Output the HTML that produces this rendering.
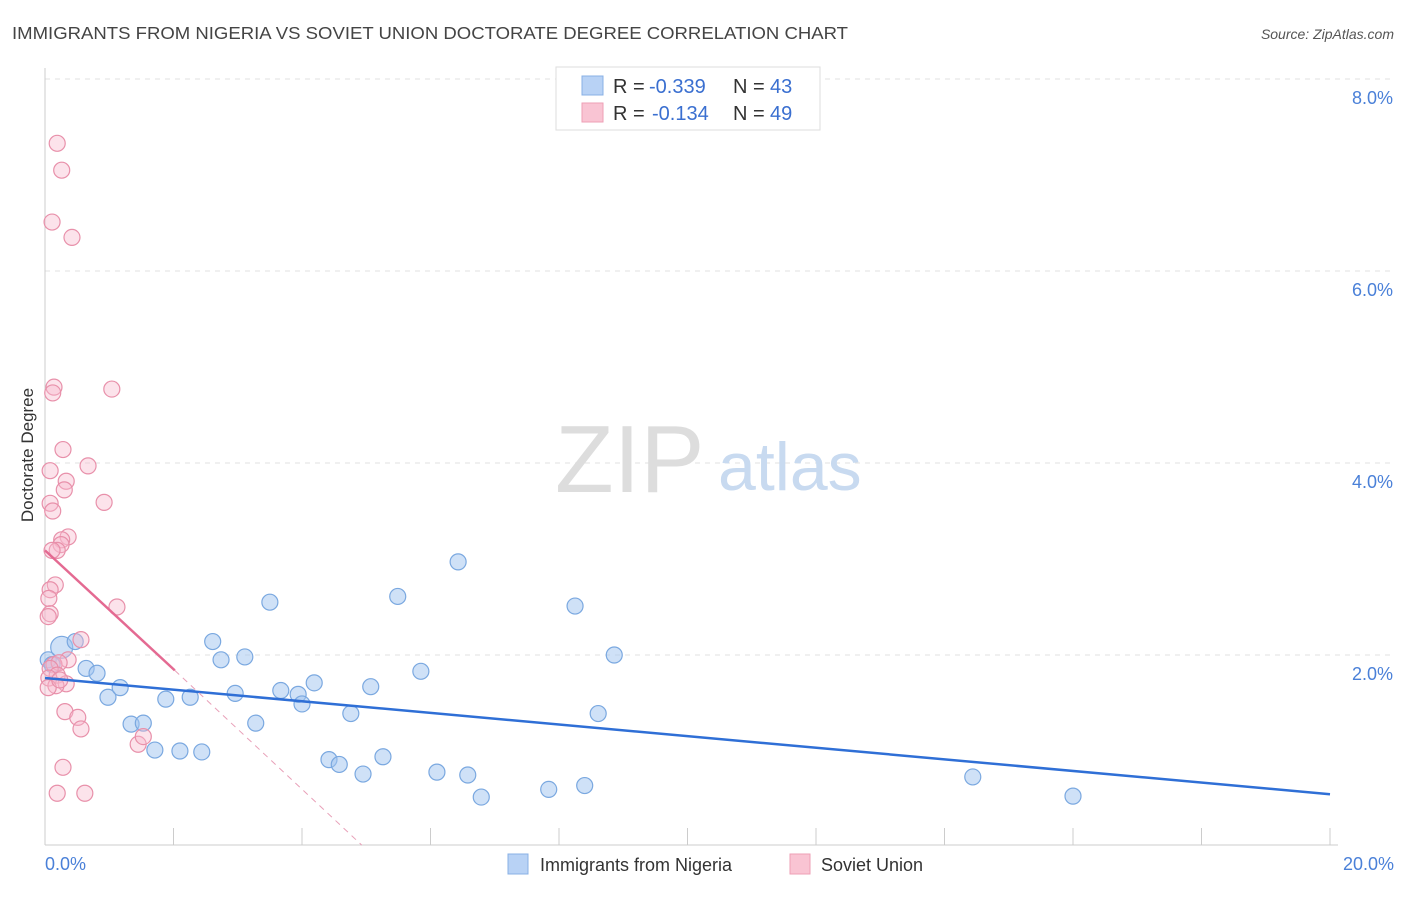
<!DOCTYPE html>
<html><head><meta charset="utf-8"><style>
body{margin:0;background:#fff;font-family:"Liberation Sans",sans-serif;}
svg text{font-family:"Liberation Sans",sans-serif;}
</style></head><body>
<svg id="c" width="1406" height="892">
<text x="12" y="39" font-size="17.5" fill="#444" textLength="836" lengthAdjust="spacingAndGlyphs">IMMIGRANTS FROM NIGERIA VS SOVIET UNION DOCTORATE DEGREE CORRELATION CHART</text>
<text x="1394" y="39" font-size="14" fill="#555" font-style="italic" text-anchor="end">Source: ZipAtlas.com</text>
<text x="33" y="455" font-size="17" fill="#333" text-anchor="middle" transform="rotate(-90 33 455)">Doctorate Degree</text>
<g id="grid"></g>
<text x="555" y="492" font-size="96" fill="#ddd" font-family="Liberation Serif">ZIP</text>
<text x="718" y="490" font-size="68" fill="#c8daf0">atlas</text>
<g id="marks"></g>
<g>
<rect x="556" y="67" width="264" height="63" fill="#fff" stroke="#ddd"/>
<rect x="582" y="76" width="21" height="19" fill="#b8d2f5" stroke="#88b0e5"/>
<rect x="582" y="103" width="21" height="19" fill="#f9c4d3" stroke="#ee9fb6"/>
<text x="613" y="93" font-size="20" fill="#333">R =</text>
<text x="649" y="93" font-size="20" fill="#3a6fd0">-0.339</text>
<text x="733" y="93" font-size="20" fill="#333">N =</text>
<text x="770" y="93" font-size="20" fill="#3a6fd0">43</text>
<text x="613" y="120" font-size="20" fill="#333">R =</text>
<text x="652" y="120" font-size="20" fill="#3a6fd0">-0.134</text>
<text x="733" y="120" font-size="20" fill="#333">N =</text>
<text x="770" y="120" font-size="20" fill="#3a6fd0">49</text>
</g>
<g>
<rect x="508" y="854" width="20" height="20" fill="#b8d2f5" stroke="#88b0e5"/>
<text x="540" y="871" font-size="18" fill="#333">Immigrants from Nigeria</text>
<rect x="790" y="854" width="20" height="20" fill="#f9c4d3" stroke="#ee9fb6"/>
<text x="821" y="871" font-size="18" fill="#333">Soviet Union</text>
</g>
</svg>
<script>
const yTicks=[2,4,6,8];
const xTickLabels=["0.0%","20.0%"];
const blueX=[0.05,0.11,0.26,0.47,0.64,0.81,0.98,1.17,1.34,1.53,1.71,1.88,2.10,2.26,2.44,2.61,2.74,2.96,3.11,3.28,3.50,3.67,3.94,4.00,4.19,4.42,4.58,4.76,4.95,5.07,5.26,5.49,5.85,6.10,6.43,6.58,6.79,7.84,8.25,8.40,8.61,8.86,14.44,16.00];
const blueY=[1.95,1.90,2.08,2.14,1.86,1.81,1.56,1.66,1.28,1.29,1.01,1.54,1.00,1.56,0.99,2.14,1.95,1.60,1.98,1.29,2.55,1.63,1.59,1.49,1.71,0.91,0.86,1.39,0.76,1.67,0.94,2.61,1.83,0.78,2.97,0.75,0.52,0.60,2.51,0.64,1.39,2.00,0.73,0.53];
const pinkX=[0.19,0.26,0.11,0.42,0.14,0.12,1.04,0.28,0.67,0.08,0.33,0.30,0.92,0.08,0.12,0.36,0.26,0.25,0.19,0.11,0.16,0.08,0.06,1.12,0.08,0.05,0.56,0.36,0.14,0.22,0.08,0.19,0.06,0.33,0.17,0.05,0.31,0.51,0.56,1.45,1.53,0.28,0.19,0.62,0.23];
const pinkY=[7.33,7.05,6.51,6.35,4.79,4.73,4.77,4.14,3.97,3.92,3.81,3.72,3.59,3.58,3.50,3.23,3.20,3.15,3.09,3.09,2.73,2.68,2.59,2.50,2.43,2.40,2.16,1.95,1.90,1.92,1.86,1.79,1.76,1.70,1.68,1.66,1.41,1.35,1.23,1.07,1.15,0.83,0.56,0.56,1.74];
const blueLine=[[0,1.76],[20,0.55]];
const pinkLine=[[0,3.09],[2.02,1.84]];
const pinkDash=[[2.02,1.84],[4.93,0.02]];
const X=v=>45+v*64.25, Y=v=>847-v*96;
const NS="http://www.w3.org/2000/svg";
const grid=document.getElementById('grid'), marks=document.getElementById('marks');
function mk(p,tag,a){const e=document.createElementNS(NS,tag);for(const k in a)e.setAttribute(k,a[k]);p.appendChild(e);return e;}
yTicks.forEach(t=>{
 const l=mk(grid,'line',{x1:45,x2:1394,y1:Y(t),y2:Y(t),stroke:'#e2e2e2','stroke-dasharray':'5,5'});
 
 
 const tx=mk(grid,'text',{x:1393,y:Y(t)+25,'font-size':18,fill:'#4a80d8','text-anchor':'end'});
 tx.textContent=t.toFixed(1)+'%';
 
 
});
mk(grid,'line',{x1:45,x2:45,y1:68,y2:845,stroke:'#ccc'});
mk(grid,'line',{x1:45,x2:1338,y1:845,y2:845,stroke:'#ccc'});
for(let i=0;i<=10;i++){const t=mk(grid,'line',{x1:X(i*2),x2:X(i*2),y1:828,y2:845,stroke:'#ccc'});
 
 }
const xl0=mk(grid,'text',{x:45,y:870,'font-size':18,fill:'#4a80d8'});xl0.textContent=xTickLabels[0];


const xl1=mk(grid,'text',{x:1394,y:870,'font-size':18,fill:'#4a80d8','text-anchor':'end'});xl1.textContent=xTickLabels[1];


blueX.forEach((v,i)=>{const c=mk(marks,'circle',{cx:X(v),cy:Y(blueY[i]),r:i==2?11:8,fill:'rgba(160,196,240,0.5)',stroke:'#7aa8e0','stroke-width':1.2});
 
 });
pinkX.forEach((v,i)=>{const c=mk(marks,'circle',{cx:X(v),cy:Y(pinkY[i]),r:8,fill:'rgba(248,185,205,0.4)',stroke:'#e890aa','stroke-width':1.2});
 
 });
const bl=mk(marks,'line',{x1:X(blueLine[0][0]),y1:Y(blueLine[0][1]),x2:X(blueLine[1][0]),y2:Y(blueLine[1][1]),stroke:'#2f6fd6','stroke-width':2.5});


const pl=mk(marks,'line',{x1:X(pinkLine[0][0]),y1:Y(pinkLine[0][1]),x2:X(pinkLine[1][0]),y2:Y(pinkLine[1][1]),stroke:'#e46a92','stroke-width':2.5});


const pd=mk(marks,'line',{x1:X(pinkDash[0][0]),y1:Y(pinkDash[0][1]),x2:X(pinkDash[1][0]),y2:Y(pinkDash[1][1]),stroke:'#e8a0b8','stroke-width':1,'stroke-dasharray':'6,5'});


</script>
</body></html>
